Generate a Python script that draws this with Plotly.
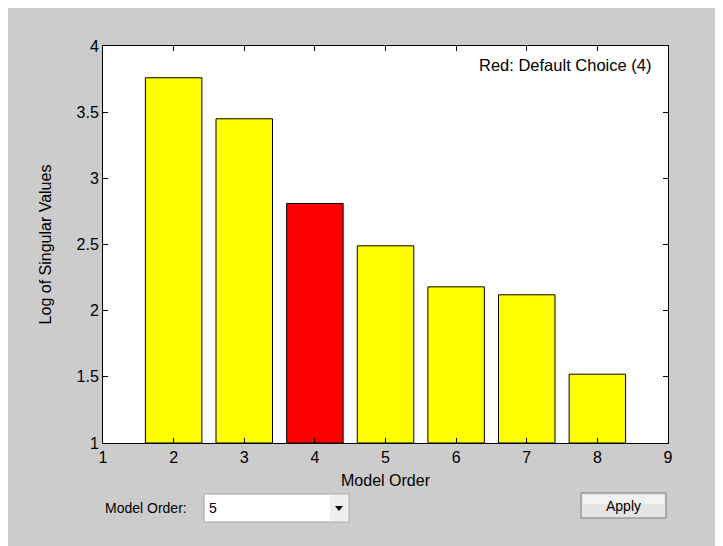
import plotly.graph_objects as go

# ---- data ----
model_orders = [2, 3, 4, 5, 6, 7, 8]
log_singular_values = [3.76, 3.45, 2.81, 2.49, 2.18, 2.12, 1.52]
default_choice = 4
x_ticks = [1, 2, 3, 4, 5, 6, 7, 8, 9]
y_ticks = [1, 1.5, 2, 2.5, 3, 3.5, 4]
y_tick_labels = ["1", "1.5", "2", "2.5", "3", "3.5", "4"]
selected_order = "5"

# ---- geometry (page pixels; the page body has an 8px margin) ----
OFF = 8
W, H = 723 - OFF, 546 - OFF
L, R, T, B = 103, 668, 46, 443   # plot area in page pixels


def px(x):
    return (x - L) / (R - L)


def py(y):
    return (B - y) / (B - T)


bar_colors = ["#ff0000" if o == default_choice else "#ffff00" for o in model_orders]

FONT = "Liberation Sans, Arial, sans-serif"

fig = go.Figure(
    go.Bar(
        x=model_orders,
        y=[v - 1 for v in log_singular_values],
        base=1,
        width=0.8,
        marker=dict(color=bar_colors, line=dict(color="#000000", width=1)),
        hoverinfo="skip",
    )
)

axis_common = dict(
    showgrid=False,
    zeroline=False,
    showline=True,
    linecolor="#000000",
    linewidth=1,
    mirror="ticks",
    ticks="inside",
    ticklen=5,
    tickcolor="#000000",
    tickfont=dict(family=FONT, size=16, color="#000000"),
)

fig.update_layout(
    width=W,
    height=H,
    margin=dict(l=L - OFF, r=(723 - OFF) - (R - OFF), t=T - OFF, b=(546 - OFF) - (B - OFF), pad=0),
    paper_bgcolor="#cccccc",
    plot_bgcolor="#ffffff",
    showlegend=False,
    xaxis=dict(
        range=[1, 9],
        tickvals=x_ticks,
        title=dict(text="Model Order", font=dict(family=FONT, size=16, color="#000000"), standoff=9),
        **axis_common,
    ),
    yaxis=dict(
        range=[1, 4],
        tickvals=y_ticks,
        ticktext=y_tick_labels,
        title=dict(text="Log of Singular Values", font=dict(family=FONT, size=16, color="#000000"), standoff=20),
        **axis_common,
    ),
)

shapes = [
    # dropdown box
    dict(type="rect", xref="paper", yref="paper", x0=px(204), x1=px(349), y0=py(494), y1=py(522),
         fillcolor="#ffffff", line=dict(color="#a5a5a5", width=1), layer="above"),
    dict(type="rect", xref="paper", yref="paper", x0=px(330), x1=px(348), y0=py(495), y1=py(521),
         fillcolor="#eeeeee", line=dict(width=0), layer="above"),
    dict(type="path", xref="paper", yref="paper",
         path=f"M {px(335)},{py(506)} L {px(343)},{py(506)} L {px(339)},{py(511)} Z",
         fillcolor="#000000", line=dict(width=0), layer="above"),
    # Apply button
    dict(type="rect", xref="paper", yref="paper", x0=px(581), x1=px(666), y0=py(493), y1=py(518),
         fillcolor="#e4e4e4", line=dict(color="#7a7a7a", width=1), layer="above"),
    dict(type="rect", xref="paper", yref="paper", x0=px(583), x1=px(664), y0=py(495), y1=py(504),
         fillcolor="#f2f2f2", line=dict(width=0), layer="above"),
]
fig.update_layout(shapes=shapes)

annotations = [
    dict(text="Red: Default Choice (" + str(default_choice) + ")", xref="paper", yref="paper",
         x=px(653), y=py(65), xanchor="right", yanchor="middle", showarrow=False,
         font=dict(family=FONT, size=16.5, color="#000000")),
    dict(text="Model Order:", xref="paper", yref="paper",
         x=px(103), y=py(508), xanchor="left", yanchor="middle", showarrow=False,
         font=dict(family=FONT, size=14, color="#000000")),
    dict(text=selected_order, xref="paper", yref="paper",
         x=px(207), y=py(508), xanchor="left", yanchor="middle", showarrow=False,
         font=dict(family=FONT, size=14, color="#000000")),
    dict(text="Apply", xref="paper", yref="paper",
         x=px(623.5), y=py(505.5), xanchor="center", yanchor="middle", showarrow=False,
         font=dict(family=FONT, size=14, color="#000000")),
]
fig.update_layout(annotations=annotations)

fig.write_html("out.html")
